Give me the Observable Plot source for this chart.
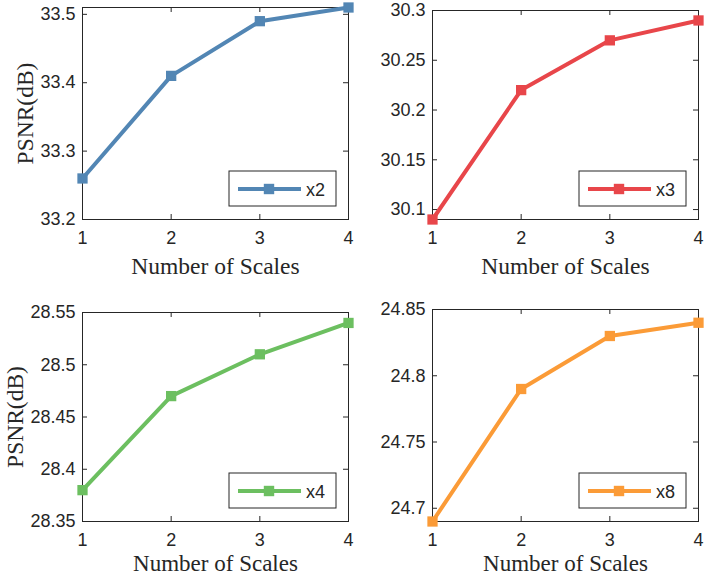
<!DOCTYPE html>
<html><head><meta charset="utf-8">
<script src="https://cdn.jsdelivr.net/npm/d3@7"></script>
<script src="https://cdn.jsdelivr.net/npm/@observablehq/plot@0.6"></script>
<style>
body{margin:0;background:#fff}
#root{position:relative;width:706px;height:577px;overflow:hidden;background:#fff}
#root svg{position:absolute}
</style>
</head><body><div id="root"></div>
<script>
// ---- data ----
const scales = [1, 2, 3, 4];
const seriesNames = ["x2", "x3", "x4", "x8"];
const psnrX2 = [33.26, 33.41, 33.49, 33.51];
const psnrX3 = [30.09, 30.22, 30.27, 30.29];
const psnrX4 = [28.38, 28.47, 28.51, 28.54];
const psnrX8 = [24.69, 24.79, 24.83, 24.84];
const ticksX2 = [33.2, 33.3, 33.4, 33.5];
const ticksX3 = [30.1, 30.15, 30.2, 30.25, 30.3];
const ticksX4 = [28.35, 28.4, 28.45, 28.5, 28.55];
const ticksX8 = [24.7, 24.75, 24.8, 24.85];
const domainX2 = [33.2, 33.51];
const domainX3 = [30.09, 30.3];
const domainX4 = [28.35, 28.55];
const domainX8 = [24.69, 24.85];
const xLabel = "Number of Scales";
const yLabel = "PSNR(dB)";

const colors = ["#5286b4", "#e8464a", "#6cbf60", "#fb9b37"];
const axisColor = "#262626";
const sans = "'Liberation Sans', Arial, Helvetica, sans-serif";
const serif = "'Liberation Serif', 'Times New Roman', serif";
const tickFont = 18, labelFont = 23.5, legendFont = 18;

const panels = [
  {name: seriesNames[0], values: psnrX2, ticks: ticksX2, domain: domainX2, color: colors[0], left: 0, top: 0, width: 353, height: 290, ml: 82, mr: 5, mt: 7, mb: 71, ylab: -57.5, xdy: 47, xfs: 23.5},
  {name: seriesNames[1], values: psnrX3, ticks: ticksX3, domain: domainX3, color: colors[1], left: 353, top: 0, width: 353, height: 290, ml: 79, mr: 8, mt: 10, mb: 71, ylab: null, xdy: 47, xfs: 23.5},
  {name: seriesNames[2], values: psnrX4, ticks: ticksX4, domain: domainX4, color: colors[2], left: 0, top: 290, width: 353, height: 287, ml: 82, mr: 5, mt: 22, mb: 56, ylab: -67.5, xdy: 42, xfs: 23},
  {name: seriesNames[3], values: psnrX8, ticks: ticksX8, domain: domainX8, color: colors[3], left: 353, top: 290, width: 353, height: 287, ml: 79, mr: 8, mt: 19, mb: 56, ylab: null, xdy: 42, xfs: 23}
];

const root = document.getElementById("root");

for (const p of panels) {
  const data = scales.map((x, i) => ({x, y: p.values[i]}));
  const fw = p.width - p.ml - p.mr, fh = p.height - p.mt - p.mb;
  const marks = [
    Plot.frame({stroke: axisColor, strokeWidth: 1}),
    Plot.tickY(p.ticks, {y: d => d, insetRight: fw - 5, stroke: axisColor}),
    Plot.tickY(p.ticks, {y: d => d, insetLeft: fw - 5, stroke: axisColor}),
    Plot.tickX(scales, {x: d => d, insetTop: fh - 5, stroke: axisColor}),
    Plot.tickX(scales, {x: d => d, insetBottom: fh - 5, stroke: axisColor}),
    Plot.axisY(p.ticks, {tickSize: 0, tickPadding: 7, fontSize: tickFont, fontFamily: sans, tickFormat: d => String(d), color: axisColor, label: null}),
    Plot.axisX(scales, {tickSize: 0, tickPadding: 12, fontSize: tickFont, fontFamily: sans, tickFormat: d => String(d), color: axisColor, label: null}),
    Plot.line(data, {x: "x", y: "y", stroke: p.color, strokeWidth: 4}),
    Plot.dot(data, {x: "x", y: "y", symbol: "square", fill: p.color, r: 5.8}),
    Plot.text([xLabel], {frameAnchor: "bottom", lineAnchor: "middle", textAnchor: "middle", dy: p.xdy, fontFamily: serif, fontSize: p.xfs, fill: axisColor})
  ];
  if (p.ylab !== null) marks.push(Plot.text([yLabel], {frameAnchor: "left", lineAnchor: "middle", textAnchor: "middle", dx: p.ylab, rotate: -90, fontFamily: serif, fontSize: labelFont, fill: axisColor}));
  const node = Plot.plot({
    width: p.width, height: p.height,
    marginLeft: p.ml, marginRight: p.mr, marginTop: p.mt, marginBottom: p.mb,
    x: {domain: [1, 4]},
    y: {domain: p.domain},
    style: {background: "transparent", overflow: "visible", fontFamily: sans},
    marks
  });
  node.style.left = p.left + "px";
  node.style.top = p.top + "px";
  // legend box (line + square marker + label), MATLAB style, bottom-right inside the axes
  const svg = d3.select(node);
  const bw = 107, bh = 35;
  const bx = p.width - p.mr - 12 - bw, by = p.height - p.mb - 13 - bh;
  const g = svg.append("g").attr("class", "legend");
  g.append("rect").attr("x", bx).attr("y", by).attr("width", bw).attr("height", bh)
    .attr("fill", "#fff").attr("stroke", axisColor).attr("stroke-width", 1);
  g.append("line").attr("x1", bx + 9).attr("x2", bx + 72).attr("y1", by + 18).attr("y2", by + 18)
    .attr("stroke", p.color).attr("stroke-width", 4);
  g.append("rect").attr("x", bx + 40 - 5.2).attr("y", by + 18 - 5.2).attr("width", 10.4).attr("height", 10.4)
    .attr("fill", p.color);
  g.append("text").attr("x", bx + 77).attr("y", by + 24.5).attr("text-anchor", "start")
    .style("font-size", legendFont + "px").style("font-family", sans).attr("fill", axisColor).text(p.name);
  root.appendChild(node);
}
</script>
</body></html>
